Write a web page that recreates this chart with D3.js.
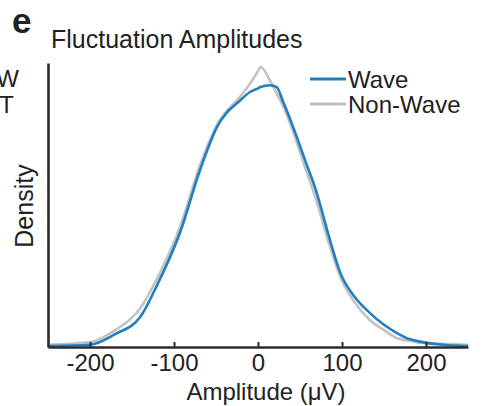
<!DOCTYPE html>
<html>
<head>
<meta charset="utf-8">
<script src="https://cdn.jsdelivr.net/npm/d3@7"></script>
<style>
  body { margin: 0; background: #fff; }
  text { font-family: "Liberation Sans", Arial, sans-serif; fill: #222; }
</style>
</head>
<body>
<div id="chart"></div>
<script>
// amplitude grid (uV) and density (x1e-3)
const amps = [-250, -200, -170, -140, -120, -93, -69, -49, -21, -10, 0, 3, 14, 22, 30, 42, 56, 70, 84, 98, 115, 133, 150, 165, 180, 196, 220, 250]
const waveDensity = [0.02, 0.05, 0.29, 0.68, 1.40, 2.57, 3.99, 4.95, 5.56, 5.74, 5.83, 5.86, 5.90, 5.86, 5.52, 4.95, 4.21, 3.47, 2.52, 1.67, 1.13, 0.77, 0.50, 0.32, 0.18, 0.11, 0.05, 0.02]
const nonWaveDensity = [0.05, 0.11, 0.38, 0.88, 1.55, 2.70, 4.10, 5.00, 5.65, 5.92, 6.22, 6.31, 6.02, 5.72, 5.43, 4.84, 4.05, 3.27, 2.36, 1.58, 1.01, 0.61, 0.38, 0.20, 0.14, 0.09, 0.07, 0.05]
const xTicks = [-200, -100, 0, 100, 200]
const seriesNames = ["Wave", "Non-Wave"]
const seriesColors = ["#1f7fc1", "#c2c2c2"]

const width = 483, height = 406
const svg = d3.select("#chart").append("svg")
  .attr("width", width)
  .attr("height", height)

const x = d3.scaleLinear().domain([-250, 250]).range([48, 468])
const y = d3.scaleLinear().domain([0, 6.4]).range([347, 63])

// bits of the neighbouring panel that got cropped in
svg.append("text").attr("x", 19).attr("y", 87).attr("text-anchor", "end")
  .style("font-size", "24px").text("W")
svg.append("text").attr("x", 14).attr("y", 113).attr("text-anchor", "end")
  .style("font-size", "24px").text("T")

// panel letter + title
svg.append("text").attr("x", 12).attr("y", 33)
  .style("font-size", "35px").style("font-weight", "bold").text("e")
svg.append("text").attr("x", 51).attr("y", 48)
  .style("font-size", "25px").text("Fluctuation Amplitudes")

// curves, gray underneath
const line = d3.line().curve(d3.curveMonotoneX)
const series = [
  { name: seriesNames[1], color: seriesColors[1], vals: nonWaveDensity },
  { name: seriesNames[0], color: seriesColors[0], vals: waveDensity }
]
svg.selectAll("path.curve")
  .data(series)
  .enter()
  .append("path")
  .attr("class", "curve")
  .attr("fill", "none")
  .attr("stroke", d => d.color)
  .attr("stroke-width", 2.6)
  .attr("d", d => line(amps.map((a, i) => [x(a), y(d.vals[i])])))

// x axis, ticks pointing in
const xAxis = svg.append("g")
  .attr("transform", `translate(0,${y(0)})`)
  .call(d3.axisBottom(x).tickValues(xTicks).tickSizeInner(-5).tickSizeOuter(0).tickPadding(7))
xAxis.select(".domain").attr("stroke", "#2b2b2b").attr("stroke-width", 2.6)
xAxis.selectAll(".tick line").attr("stroke", "#2b2b2b").attr("stroke-width", 2)
xAxis.selectAll(".tick text")
  .style("font-size", "24px")
  .style("font-family", "'Liberation Sans', Arial, sans-serif")
  .attr("fill", "#222")
  .text(d => d < 0 ? "-" + Math.abs(d) : d)

// y axis: bare line, no ticks
const yAxis = svg.append("g")
  .attr("transform", `translate(${x(-250)},0)`)
  .call(d3.axisLeft(y).tickValues([]).tickSizeOuter(0))
yAxis.select(".domain").attr("stroke", "#2b2b2b").attr("stroke-width", 2.6)

svg.append("text")
  .attr("x", 266).attr("y", 400).attr("text-anchor", "middle")
  .style("font-size", "24px").text("Amplitude (\u03bcV)")
svg.append("text")
  .attr("transform", "translate(33,206) rotate(-90)")
  .attr("text-anchor", "middle")
  .style("font-size", "25px").text("Density")

// legend
const legend = svg.selectAll("g.legend")
  .data(seriesNames)
  .enter()
  .append("g")
  .attr("class", "legend")
  .attr("transform", (d, i) => `translate(310,${79 + i * 25})`)
legend.append("line")
  .attr("x1", 0).attr("x2", 36)
  .attr("stroke", (d, i) => seriesColors[i])
  .attr("stroke-width", 3)
legend.append("text")
  .attr("x", 38).attr("y", 9)
  .style("font-size", "24px")
  .text(d => d)
</script>
</body>
</html>
